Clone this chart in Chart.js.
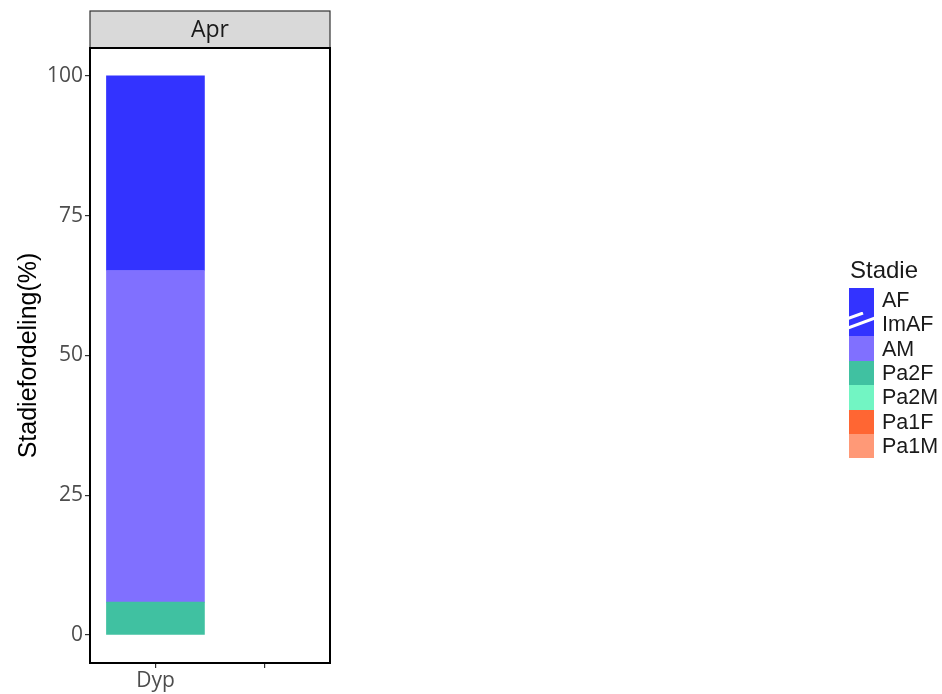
<!DOCTYPE html>
<html>
<head>
<meta charset="utf-8">
<script src="https://cdn.jsdelivr.net/npm/chart.js@4.4.1/dist/chart.umd.min.js"></script>
<style>
  html, body { margin: 0; padding: 0; background: #fff; }
  #wrap { position: relative; width: 942px; height: 694px; }
  #c { position: absolute; left: 0; top: 0; }
  #legend { position: absolute; left: 849px; top: 258px; font-family: "Liberation Sans", Arial, sans-serif; color: #1a1a1a; }
  #legend .title { font-size: 24px; height: 29.7px; line-height: 24px; padding-left: 1px; }
  #legend .row { display: flex; align-items: center; height: 24.4px; }
  #legend .key { width: 25px; height: 24.4px; margin-right: 8px; }
  #legend .lab { font-size: 21.5px; line-height: 24px; }
</style>
</head>
<body>
<div id="wrap">
  <canvas id="c" width="942" height="694"></canvas>
  <div id="legend"></div>
</div>
<script>
// ---- data ----
const panelTitle = 'Apr';
const categories = ['Dyp', ''];
const stages = ['AF', 'ImAF', 'AM', 'Pa2F', 'Pa2M', 'Pa1F', 'Pa1M'];
const AF   = [34.8, null];
const ImAF = [null, null];
const AM   = [59.3, null];
const Pa2F = [5.9, null];
const Pa2M = [null, null];
const Pa1F = [null, null];
const Pa1M = [null, null];
const yTicks = [0, 25, 50, 75, 100];
const yTitle = 'Stadiefordeling(%)';
const legendTitle = 'Stadie';

const colors = {
  AF: '#3333FF', ImAF: '#3333FF', AM: '#8070FF', Pa2F: '#40C1A1',
  Pa2M: '#72F5C3', Pa1F: '#FF6633', Pa1M: '#FF9977'
};
const seriesValues = { AF, ImAF, AM, Pa2F, Pa2M, Pa1F, Pa1M };

// ggplot stacks first level on top -> Chart.js needs reverse order (bottom first)
const datasets = stages.slice().reverse().map(s => ({
  label: s,
  data: seriesValues[s].map((v, i) => ({ x: i + 1, y: v })),
  backgroundColor: colors[s],
  borderWidth: 0,
  stack: 'one',
  barThickness: 98
}));

const panelPlugin = {
  id: 'panel',
  afterDatasetsDraw(chart) {
    const { ctx, chartArea: a } = chart;
    ctx.save();
    // strip
    ctx.fillStyle = '#D9D9D9';
    ctx.fillRect(a.left, 11, a.right - a.left, a.top - 11);
    ctx.strokeStyle = '#333333';
    ctx.lineWidth = 1.2;
    ctx.strokeRect(a.left, 11, a.right - a.left, a.top - 11);
    ctx.fillStyle = '#1a1a1a';
    ctx.font = '23px "Open Sans", sans-serif';
    ctx.textAlign = 'center';
    ctx.textBaseline = 'middle';
    ctx.fillText(panelTitle, (a.left + a.right) / 2, (11 + a.top) / 2 + 1);
    // panel border
    ctx.strokeStyle = '#000';
    ctx.lineWidth = 2;
    ctx.strokeRect(a.left, a.top, a.right - a.left, a.bottom - a.top);
    ctx.restore();
  }
};

new Chart(document.getElementById('c'), {
  type: 'bar',
  data: { datasets },
  options: {
    responsive: false,
    animation: false,
    layout: { padding: { left: 0, right: 612, top: 48, bottom: 0 } },
    plugins: { legend: { display: false }, tooltip: { enabled: false } },
    scales: {
      x: {
        type: 'linear',
        min: 0.4, max: 2.6,
        stacked: true,
        offset: false,
        afterBuildTicks(scale) { scale.ticks = categories.map((c, i) => ({ value: i + 1 })); },
        afterFit(scale) { scale.height = 31; },
        ticks: {
          autoSkip: false, maxRotation: 0,
          color: '#4D4D4D', font: { family: '"Open Sans", sans-serif', size: 21 },
          padding: 0,
          callback: (v, i) => categories[i]
        },
        grid: { offset: false, drawOnChartArea: false, drawTicks: true, tickLength: 5, color: '#333333', lineWidth: 1.2 },
        border: { display: false }
      },
      y: {
        min: -5, max: 105,
        stacked: true,
        afterBuildTicks(scale) { scale.ticks = yTicks.map(v => ({ value: v })); },
        afterFit(scale) { scale.width = 90; },
        ticks: {
          color: '#4D4D4D', font: { family: '"Open Sans", sans-serif', size: 21 },
          padding: 2
        },
        grid: { drawOnChartArea: false, drawTicks: true, tickLength: 5, color: '#333333', lineWidth: 1.2 },
        border: { display: false },
        title: {
          display: true, text: yTitle, color: '#000',
          font: { family: '"Liberation Sans", Arial, sans-serif', size: 25 },
          padding: { top: 14, bottom: 0 }
        }
      }
    }
  },
  plugins: [panelPlugin]
});

// ---- HTML legend ----
const leg = document.getElementById('legend');
const t = document.createElement('div');
t.className = 'title';
t.textContent = legendTitle;
leg.appendChild(t);
stages.forEach(s => {
  const row = document.createElement('div');
  row.className = 'row';
  const key = document.createElement('div');
  key.className = 'key';
  key.style.background = colors[s];
  if (s === 'ImAF') {
    key.innerHTML = '<svg width="25" height="24.4" viewBox="0 0 25 24.4" style="display:block"><rect width="25" height="24.4" fill="' + colors[s] + '"/>' +
      '<line x1="-1" y1="6.5" x2="14" y2="1" stroke="#fff" stroke-width="3"/>' +
      '<line x1="-1" y1="16" x2="26" y2="6" stroke="#fff" stroke-width="3"/></svg>';
  }
  const lab = document.createElement('div');
  lab.className = 'lab';
  lab.textContent = s;
  row.appendChild(key);
  row.appendChild(lab);
  leg.appendChild(row);
});
</script>
</body>
</html>
